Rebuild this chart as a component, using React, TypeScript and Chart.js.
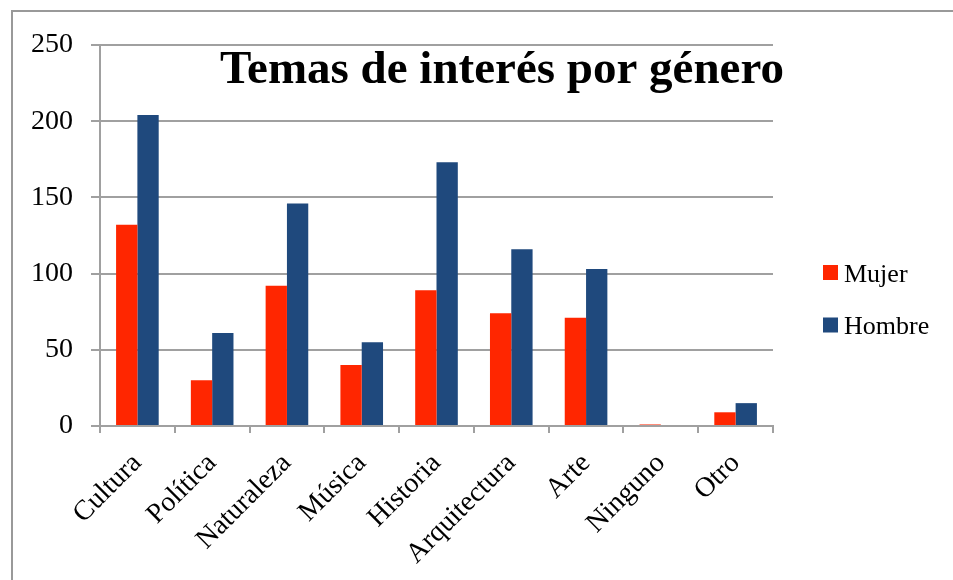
import React, { useEffect, useRef } from "react";
import { Chart, registerables } from "chart.js";

Chart.register(...registerables);

const categories = ["Cultura", "Política", "Naturaleza", "Música", "Historia", "Arquitectura", "Arte", "Ninguno", "Otro"];
const mujer = [132, 30, 92, 40, 89, 74, 71, 1, 9];
const hombre = [204, 61, 146, 55, 173, 116, 103, 0, 15];
const seriesNames = ["Mujer", "Hombre"];
const seriesColors = ["#FF2600", "#1F497D"];
const titleText = "Temas de interés por género";
const yTicks = [0, 50, 100, 150, 200, 250];

const SERIF = "'Liberation Serif', 'Times New Roman', serif";

const overlayPlugin = {
  id: "overlay",
  afterDraw(chart: any) {
    const { ctx, chartArea } = chart;
    ctx.save();
    // title
    ctx.font = `bold 47px ${SERIF}`;
    ctx.fillStyle = "#000";
    ctx.textAlign = "center";
    ctx.textBaseline = "alphabetic";
    ctx.fillText(titleText, chartArea.left + 402, chartArea.top + 38);
    // legend
    const ds = chart.data.datasets;
    ctx.font = `26px ${SERIF}`;
    ctx.textAlign = "left";
    ctx.textBaseline = "middle";
    ds.forEach((d: any, i: number) => {
      const bx = chartArea.right + 50;
      const by = chartArea.top + 220 + i * 52.5;
      ctx.fillStyle = d.backgroundColor;
      ctx.fillRect(bx, by, 15, 15);
      ctx.fillStyle = "#000";
      ctx.fillText(d.label, bx + 21, by + 10);
    });
    ctx.restore();
  },
};

export default function App() {
  const ref = useRef<HTMLCanvasElement | null>(null);
  useEffect(() => {
    if (!ref.current) return;
    const chart = new Chart(ref.current, {
      type: "bar",
      data: {
        labels: categories,
        datasets: [
          { label: seriesNames[0], data: mujer, backgroundColor: seriesColors[0], categoryPercentage: 0.57, barPercentage: 1 },
          { label: seriesNames[1], data: hombre, backgroundColor: seriesColors[1], categoryPercentage: 0.57, barPercentage: 1 },
        ],
      },
      options: {
        responsive: false,
        animation: false,
        layout: { padding: { top: 45, left: 0, right: 180, bottom: 0 } },
        plugins: { legend: { display: false }, title: { display: false }, tooltip: { enabled: false } },
        scales: {
          x: {
            afterFit: (s: any) => { s.height = 154; },
            grid: { drawOnChartArea: false, drawTicks: true, tickLength: 7, color: "#a0a0a0", lineWidth: 2, offset: true },
            border: { display: true, color: "#a0a0a0", width: 2 },
            ticks: {
              autoSkip: false,
              minRotation: 45,
              maxRotation: 45,
              color: "#000",
              padding: 14,
              font: { family: SERIF, size: 28 },
            },
          },
          y: {
            min: 0,
            max: 250,
            afterFit: (s: any) => { s.width = 100; },
            afterBuildTicks: (s: any) => { s.ticks = yTicks.map((v) => ({ value: v })); },
            grid: { color: "#a0a0a0", lineWidth: 2, drawTicks: true, tickLength: 9 },
            border: { display: true, color: "#a0a0a0", width: 2 },
            ticks: { stepSize: 50, color: "#000", padding: 18, font: { family: SERIF, size: 28 } },
          },
        },
      },
      plugins: [overlayPlugin],
    });
    return () => chart.destroy();
  }, []);

  return (
    <div style={{ position: "absolute", left: 0, top: 0, width: 953, height: 580, overflow: "hidden", background: "#fff" }}>
      <div style={{ position: "absolute", left: 11, top: 10, width: 980, height: 620, border: "2px solid #999", boxSizing: "border-box" }} />
      <canvas ref={ref} width={953} height={580} style={{ position: "absolute", left: 0, top: 0, width: 953, height: 580 }} />
    </div>
  );
}
